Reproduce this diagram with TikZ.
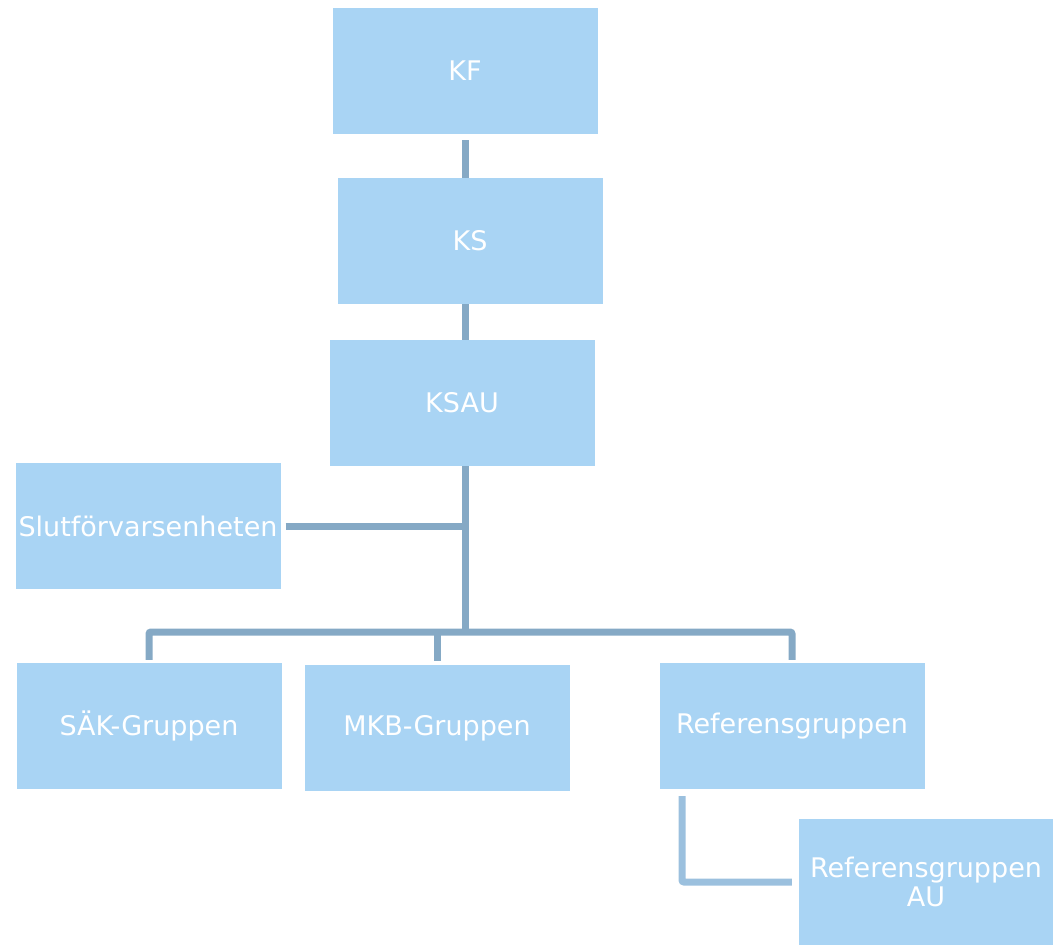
\documentclass[tikz,border=0pt]{standalone}
\usepackage{fontspec}
\setmainfont{DejaVu Sans}
\usetikzlibrary{positioning}
\definecolor{boxblue}{HTML}{A9D4F4}
\definecolor{linkblue}{HTML}{85A9C5}
\definecolor{linklight}{HTML}{9BC0DE}

\begin{document}
\begin{tikzpicture}[x=1pt,y=-1pt,
    every node/.style={fill=boxblue,text=white,inner sep=0pt,align=center,
      minimum width=265pt,minimum height=126pt,font=\fontsize{27}{29}\selectfont},
    link/.style={draw=linkblue,line width=7pt,rounded corners=2pt}]
    \useasboundingbox (0,0) rectangle (1053,945);
    \node (KF) at (465,71) {KF};
    \node (KS) at (470,241) {KS};
    \node (KSAU) at (462,403) {KSAU};
    \node (Slut) at (148,526) {Slutförvarsenheten};
    \node (SAK) at (149,726) {SÄK-Gruppen};
    \node (MKB) at (437,728) {MKB-Gruppen};
    \node (Ref) at (792,726) {Referensgruppen};
    \node[minimum width=254pt] (RefAU) at (926,882) {Referensgruppen\\AU};
    \coordinate (hub) at (465,632);
    \coordinate (refdrop) at (682,0);
    \draw[link,shorten <=6pt] (KF.south) -- (KF.south |- KS.north);
    \draw[link] (KS.south -| hub) -- (KSAU.north -| hub);
    \draw[link] (KSAU.south -| hub) -- (hub);
    \draw[link,shorten <=5pt] (Slut.east) -- (Slut.east -| hub);
    \draw[link,shorten <=3pt,shorten >=3pt] (SAK.north) |- (hub) -| (Ref.north);
    \draw[link,shorten <=4pt] (MKB.north) -- (MKB.north |- hub);
    \draw[link,draw=linklight,shorten <=7pt,shorten >=7pt] (Ref.south -| refdrop) |- (RefAU.west);
  \end{tikzpicture}
\end{document}
